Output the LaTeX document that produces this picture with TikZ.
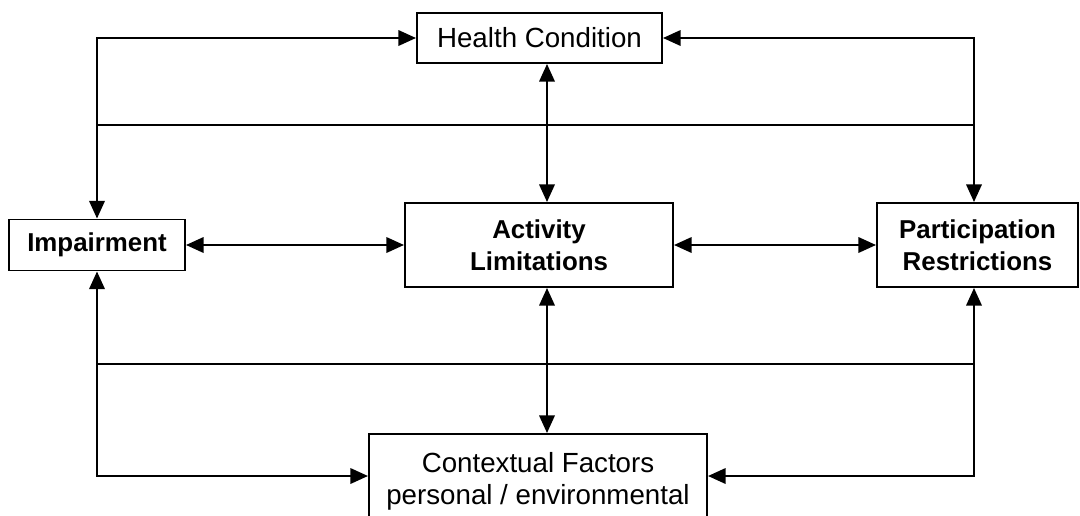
\documentclass[tikz,border=0pt]{standalone}
\usepackage{fontspec}
\setmainfont{Liberation Sans}
\usetikzlibrary{arrows.meta}
\begin{document}
\begin{tikzpicture}[x=0.025cm,y=-0.025cm,
  line width=1.4pt,
  >={Triangle[length=12.5pt,width=11pt]},
  boxreg/.style={draw,line width=1.4pt,inner sep=0pt,align=center,
    font=\fontsize{19.7}{22.8}\selectfont},
  boxbold/.style={draw,line width=1.4pt,inner sep=0pt,align=center,
    font=\fontsize{18.4}{22.8}\selectfont\bfseries},
  link/.style={<->},
  rail/.style={-}]
\useasboundingbox (0,0) rectangle (1080,515);
\clip (0,0) rectangle (1080,515);
\fill[white] (0,0) rectangle (1080,515);

\node[boxreg, minimum width=6.125cm, minimum height=1.25cm] (HC) at (539.5,38) {Health Condition};
\node[boxbold, minimum width=4.4cm, minimum height=1.275cm] (Imp) at (97,245) {Impairment};
\node[boxbold, minimum width=6.7cm, minimum height=2.1cm] (AL) at (539,245) {Activity\\Limitations};
\node[boxbold, minimum width=5.025cm, minimum height=2.1cm] (Part) at (977.5,245) {Participation\\Restrictions};
\node[boxreg, minimum width=8.45cm, minimum height=2.35cm] (CF) at (538,481) {Contextual Factors\\personal / environmental};

\coordinate (lx) at (97,0);
\coordinate (rx) at (974,0);
\coordinate (mx) at (547,0);
\coordinate (ty) at (0,125);
\coordinate (by) at (0,364);
\coordinate (cy) at (0,476);

\draw[link] (HC.west) -| (Imp.north);
\draw[link] (HC.east) -| (rx |- Part.north);
\draw[rail] (lx |- ty) -- (rx |- ty);
\draw[link] (HC.south -| mx) -- (AL.north -| mx);
\draw[link] (Imp.east) -- (AL.west);
\draw[link] (AL.east) -- (Part.west);
\draw[link] (Imp.south) |- (CF.west |- cy);
\draw[link] (rx |- Part.south) |- (CF.east |- cy);
\draw[rail] (lx |- by) -- (rx |- by);
\draw[link] (AL.south -| mx) -- (CF.north -| mx);
\end{tikzpicture}
\end{document}
